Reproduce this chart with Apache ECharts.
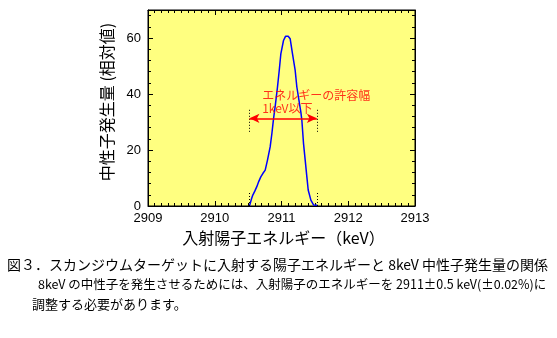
<!DOCTYPE html>
<html>
<head>
<meta charset="utf-8">
<script src="https://cdn.jsdelivr.net/npm/echarts@6/dist/echarts.min.js"></script>
<style>
html,body{margin:0;padding:0;background:#fff;}
#c{width:557px;height:338px;}
</style>
</head>
<body>
<div id="c"></div>
<script>
// ---- data ----
const energy = [2910.52, 2910.55, 2910.57, 2910.60, 2910.63, 2910.66, 2910.69, 2910.72, 2910.756, 2910.79, 2910.83, 2910.856, 2910.88, 2910.91, 2910.94, 2910.966, 2910.99, 2911.03, 2911.06, 2911.08, 2911.10, 2911.13, 2911.165, 2911.205, 2911.23, 2911.27, 2911.29, 2911.305, 2911.33, 2911.355, 2911.38, 2911.40, 2911.44, 2911.48, 2911.54];
const neutron = [0, 2.5, 3.9, 5.3, 6.9, 8.8, 10.4, 11.6, 12.8, 16.4, 21.1, 25.9, 31.0, 36.5, 42.5, 48.4, 54.3, 59.1, 60.6, 60.9, 60.6, 59.7, 54.3, 48.4, 42.5, 36.5, 33.5, 30.6, 22.3, 16.4, 10.4, 5.7, 2.1, 0.4, 0.3];
const xTickValues = [2909, 2910, 2911, 2912, 2913];
const yTickValues = [0, 20, 40, 60];
const yMax = 70;
const widthBounds = [2910.52, 2911.53];
const arrowLevel = 31.3;
const dottedRanges = [[26.5, 34.4], [0, 5.1]];
const annotationLines = ['エネルギーの許容幅', '1keV以下'];
const annotationPos = [[2910.71, 39.6], [2910.71, 35.0]];
const xName = '入射陽子エネルギー（keV）';
const yName = '中性子発生量 (相対値)';
const captionLines = [
  '図３．スカンジウムターゲットに入射する陽子エネルギーと 8keV 中性子発生量の関係',
  '8keV の中性子を発生させるためには、入射陽子のエネルギーを 2911±0.5 keV(±0.02%)に',
  '調整する必要があります。'
];

const chart = echarts.init(document.getElementById('c'));
const sansFont = '"Liberation Sans", Arial, sans-serif';
const cjkFont = '"Noto Sans CJK JP", sans-serif';

const dottedData = [];
widthBounds.forEach(x => {
  dottedRanges.forEach(r => {
    dottedData.push([{coord: [x, r[0]]}, {coord: [x, r[1]]}]);
  });
});

const baseX = {
  type: 'value', min: xTickValues[0], max: xTickValues[xTickValues.length - 1], interval: 1,
  axisLine: {show: true, onZero: false, lineStyle: {color: '#000', width: 1}},
  axisTick: {show: true, inside: true, length: 5, lineStyle: {color: '#000'}},
  minorTick: {show: true, splitNumber: 10, length: 3, lineStyle: {color: '#000'}},
  splitLine: {show: false}
};
const baseY = {
  type: 'value', min: yTickValues[0], max: yMax, interval: 20,
  axisLine: {show: true, onZero: false, lineStyle: {color: '#000', width: 1}},
  axisTick: {show: true, inside: true, length: 5, lineStyle: {color: '#000'}},
  minorTick: {show: true, splitNumber: 5, length: 3, lineStyle: {color: '#000'}},
  splitLine: {show: false}
};

chart.setOption({
  animation: false,
  backgroundColor: '#fff',
  grid: {left: 148, right: 142, top: 10, bottom: 132, show: true, backgroundColor: '#ffff80', borderColor: '#000', borderWidth: 1},
  xAxis: [
    Object.assign({}, baseX, {
      position: 'bottom',
      axisLabel: {show: true, color: '#000', fontFamily: sansFont, fontSize: 13, margin: 6,
        formatter: v => String(v)},
      name: xName, nameLocation: 'middle', nameGap: 17,
      nameTextStyle: {color: '#000', fontFamily: cjkFont, fontSize: 16, padding: [0, 0, 0, 4]}
    }),
    Object.assign({}, baseX, {position: 'top', axisLabel: {show: false}})
  ],
  yAxis: [
    Object.assign({}, baseY, {
      position: 'left',
      axisLabel: {show: true, color: '#000', fontFamily: sansFont, fontSize: 13, margin: 7,
        formatter: v => (yTickValues.indexOf(v) >= 0 ? String(v) : '')},
      name: yName, nameLocation: 'middle', nameGap: 33,
      nameTextStyle: {color: '#000', fontFamily: cjkFont, fontSize: 16, padding: [0, 0, 0, 12]}
    }),
    Object.assign({}, baseY, {position: 'right', axisLabel: {show: false}})
  ],
  series: [
    {
      type: 'line', data: energy.map((e, i) => [e, neutron[i]]),
      showSymbol: false, smooth: false,
      lineStyle: {color: '#0000ff', width: 1.5},
      z: 3
    },
    {
      type: 'line', data: [],
      markLine: {
        silent: true, symbol: ['none', 'none'], label: {show: false},
        lineStyle: {color: '#000', type: [1, 2], width: 1},
        data: dottedData
      }
    },
    {
      type: 'line', data: [],
      markLine: {
        silent: true, symbol: ['arrow', 'arrow'], symbolSize: [7, 10], label: {show: false},
        lineStyle: {color: '#ff0000', type: 'solid', width: 1.5},
        data: [[{coord: [widthBounds[0], arrowLevel]}, {coord: [widthBounds[1], arrowLevel]}]]
      },
      z: 4
    },
    {
      type: 'scatter', symbolSize: 0,
      data: annotationPos.map((p, i) => ({value: p, name: annotationLines[i]})),
      label: {
        show: true, position: [0, 0], align: 'left', verticalAlign: 'middle',
        formatter: p => p.name, color: '#ff0000', fontFamily: cjkFont, fontSize: 12
      },
      z: 5
    }
  ],
  graphic: captionLines.map((t, i) => ({
    type: 'text',
    left: [7, 38, 32][i],
    top: [258, 278, 298][i],
    style: {
      text: t, fill: '#000',
      font: ['14px ', '12.5px ', '13px '][i] + cjkFont,
      letterSpacing: [0.3, 0, 0][i]
    }
  }))
});
</script>
</body>
</html>
